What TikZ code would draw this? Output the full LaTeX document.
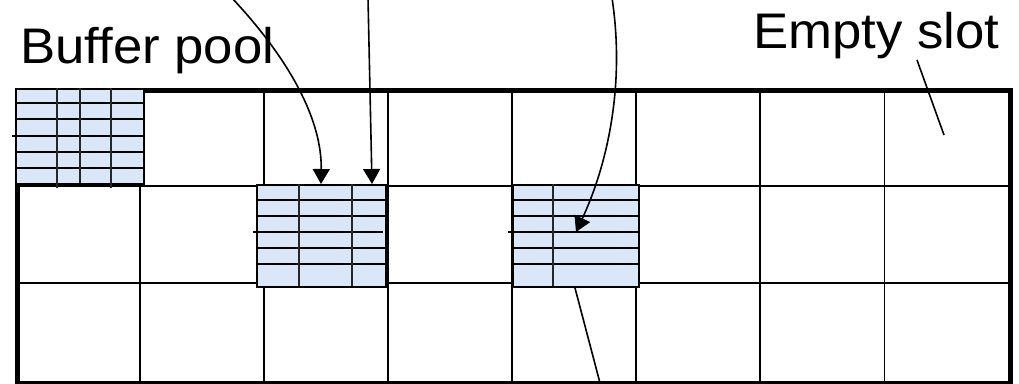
\documentclass[tikz,border=0pt]{standalone}
\usepackage{fontspec}
\setmainfont[FakeStretch=1.055]{Liberation Sans}
\usetikzlibrary{arrows.meta,calc}
\definecolor{pagefill}{RGB}{218,231,248}
\begin{document}
\begin{tikzpicture}[x=1pt,y=-1pt,
  gridline/.style={line width=1.8pt, black},
  frameline/.style={draw=black, line width=4.8pt, rectangle, inner sep=0pt, anchor=north west},
  page/.style={draw=black, line width=2pt, fill=pagefill, rectangle, inner sep=0pt, anchor=north west},
  rowline/.style={line width=1.8pt, black},
  colline/.style={line width=1.6pt, black!85},
  ptr/.style={line width=1.6pt, -{Triangle[length=15pt,width=17pt]}},
  lead/.style={line width=1.6pt},
  lbl/.style={font=\fontsize{50}{60}\selectfont, inner sep=0pt, anchor=base west}
]
\useasboundingbox (0,0) rectangle (1019,383);

% buffer pool frame and slots
\foreach \x in {139.6,263.8,387.9,512,636.1,760.3,884.4}
  \draw[gridline] (\x,88) -- (\x,381);
\foreach \y in {185.7,283.3}
  \draw[gridline] (15,\y) -- (1008,\y);
\node[frameline, minimum width=993pt, minimum height=293pt] (pool) at (15,88) {};

% page 1
\node[page, minimum width=128pt, minimum height=95pt] (p1) at (15,88) {};
\foreach \y in {103,119,152,168} \draw[rowline] (15,\y) -- (143,\y);
\draw[rowline] (12,136) -- (143,136);
\draw[colline] (57,88) -- (57,188);
\draw[colline] (80,88) -- (80,183);
\draw[colline] (111,88) -- (111,188);

% page 2
\node[page, minimum width=129pt, minimum height=102pt] (p2) at (256,184) {};
\foreach \y in {200,216,248,264} \draw[rowline] (256,\y) -- (385,\y);
\draw[rowline] (253,232) -- (383,232);
\draw[colline] (299,184) -- (299,286);
\draw[colline] (352,184) -- (352,286);

% page 3
\node[page, minimum width=126pt, minimum height=102pt] (p3) at (512,184) {};
\foreach \y in {200,216,248,264} \draw[rowline] (512,\y) -- (638,\y);
\draw[rowline] (508,232) -- (638,232);
\draw[colline] (553,184) -- (553,286);

% labels
\node[lbl] (bp) at (20,63) {Buffer pool};
\node[lbl] (es) at (753,48) {Empty slot};

% pointers
\coordinate (s1) at (232,-2);
\coordinate (s2) at (368,-2);
\coordinate (s3) at (612,-2);
\draw[ptr] (s1) .. controls (290,60) and (322,120) .. ($(p2.north west)+(65,0)$);
\draw[ptr] (s2) -- ($(p2.north west)+(116,0)$);
\draw[ptr] (s3) .. controls (626,90) and (605,170) .. ($(p3.north west)+(64,48)$);

% leaders
\coordinate (e1) at (944,135);
\draw[lead] ($(es.base west)+(164,12)$) -- (e1);
\coordinate (b1) at (600,383);
\draw[lead] ($(p3.south west)+(63,0)$) -- (b1);
\end{tikzpicture}
\end{document}
